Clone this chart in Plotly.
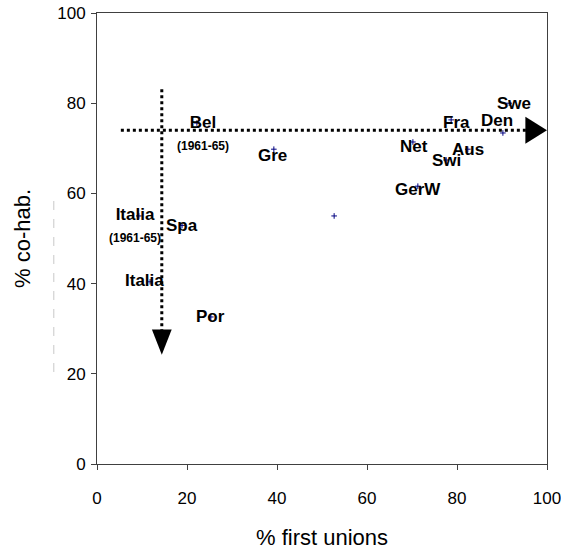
import plotly.graph_objects as go

# ── Data ──────────────────────────────────────────────────────
labels = [
    "Bel<br><span style='font-size:12px'>(1961-65)</span>",
    "Gre",
    "",
    "Italia<br><span style='font-size:12px'>(1961-65)</span>",
    "Spa",
    "Italia",
    "Por",
    "Net",
    "Swi",
    "Aus",
    "Fra",
    "Den",
    "Swe",
    "GerW",
]
first_unions = [22.2, 39.3, 52.7, 9.3, 18.9, 11.8, 25.3, 70.2, 77.6, 82.4, 78.7, 90.2, 91.6, 71.3]
cohab = [75.6, 69.8, 55.0, 55.0, 52.9, 40.4, 32.6, 71.4, 67.4, 69.8, 76.3, 73.4, 80.0, 61.6]
tick_vals = [0, 20, 40, 60, 80, 100]

# label offsets in pixels (xshift, yshift)
LABEL_SHIFT = [(6, -10), (-1, -6), (0, 0), (-4, -9), (0, 0), (-6, 1), (0, 0),
               (1, -5), (0, 0), (0, 0), (5, -3), (-6, 12), (5, 0), (0, -3)]

# reference arrows (in data units)
H_ARROW_Y = 74
H_ARROW_X0, H_ARROW_X1 = 5.3, 95.5
V_ARROW_X = 14.4
V_ARROW_Y0, V_ARROW_Y1 = 83.1, 29.5

FONT = "Arial, Liberation Sans, sans-serif"

fig = go.Figure()
fig.add_trace(go.Scatter(
    x=first_unions, y=cohab,
    mode="markers",
    marker=dict(symbol="cross-thin", size=4, color="#000080",
                line=dict(color="#000080", width=1)),
    showlegend=False,
))

for lab, xv, yv, (dx, dy) in zip(labels, first_unions, cohab, LABEL_SHIFT):
    if not lab:
        continue
    fig.add_annotation(
        x=xv, y=yv, text=f"<b>{lab}</b>", showarrow=False,
        xshift=dx, yshift=dy,
        font=dict(family=FONT, size=17, color="black"),
    )

# dotted arrows
fig.add_shape(type="line", x0=H_ARROW_X0, x1=H_ARROW_X1, y0=H_ARROW_Y, y1=H_ARROW_Y,
              line=dict(color="black", width=3, dash="dot"))
fig.add_shape(type="path",
              path=f"M {H_ARROW_X1 - 0.3},{H_ARROW_Y - 3} L 100,{H_ARROW_Y} L {H_ARROW_X1 - 0.3},{H_ARROW_Y + 3} Z",
              fillcolor="black", line=dict(color="black", width=0))
fig.add_shape(type="line", x0=V_ARROW_X, x1=V_ARROW_X, y0=V_ARROW_Y0, y1=V_ARROW_Y1,
              line=dict(color="black", width=3, dash="dot"))
fig.add_shape(type="path",
              path=f"M {V_ARROW_X - 2.2},{V_ARROW_Y1 + 0.3} L {V_ARROW_X},24.2 L {V_ARROW_X + 2.2},{V_ARROW_Y1 + 0.3} Z",
              fillcolor="black", line=dict(color="black", width=0))

# faint dashed line next to y title
fig.add_shape(type="line", xref="paper", yref="paper",
              x0=-0.096, x1=-0.096, y0=0.204, y1=0.599,
              line=dict(color="#c8c8c8", width=1, dash="dash"))

axis_common = dict(
    range=[0, 100], tickvals=tick_vals,
    showgrid=False, zeroline=False, automargin=False,
    showline=True, linecolor="#404040", linewidth=1, mirror=True,
    ticks="outside", ticklen=5, tickcolor="#404040", ticklabeloverflow="allow",
    tickfont=dict(family=FONT, size=17, color="black"),
)

fig.update_layout(
    width=561, height=550,
    paper_bgcolor="white", plot_bgcolor="white",
    margin=dict(l=97, r=14, t=13, b=86, autoexpand=False),
    font=dict(family=FONT, color="black"),
    xaxis=dict(**axis_common, ticklabelstandoff=14,
               title=dict(text="% first unions", font=dict(family=FONT, size=22), standoff=22)),
    yaxis=dict(**axis_common, ticklabelstandoff=2,
               title=dict(text="% co-hab.", font=dict(family=FONT, size=22), standoff=20)),
)

# drop the page's default body margin so the figure fills the window
fig.write_html("out.html", config={"displayModeBar": False},
               post_script="document.body.style.margin='0';")
